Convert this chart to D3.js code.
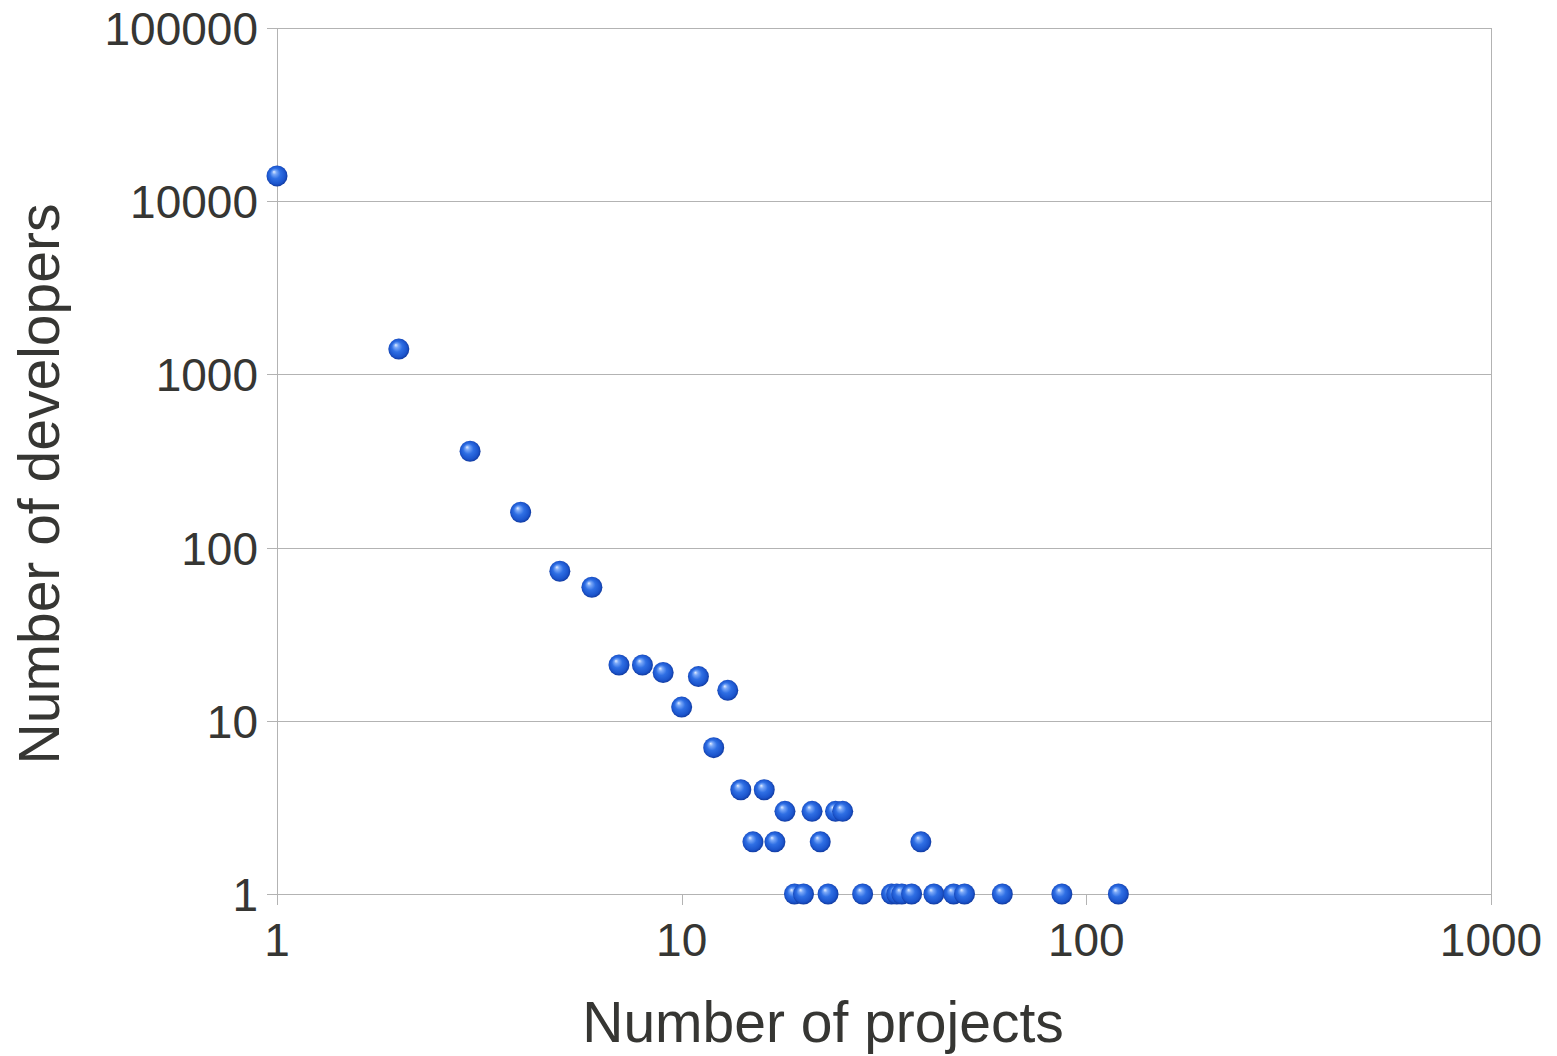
<!DOCTYPE html>
<html>
<head>
<meta charset="utf-8">
<script src="https://cdn.jsdelivr.net/npm/d3@7"></script>
<style>
  body { margin: 0; background: #fff; }
  text { font-family: "Liberation Sans", Arial, sans-serif; fill: #363633; }
</style>
</head>
<body>
<svg class="graph"></svg>
<script>
// number of projects a developer works on
let projects = [1, 2, 3, 4, 5, 6, 7, 8, 9, 10, 11, 12, 13, 14, 15, 16, 17, 18, 19, 20,
    21, 22, 23, 24, 25, 28, 33, 34, 35, 37, 39, 42, 47, 50, 62, 87, 120]
// how many developers have that many projects
let developers = [14000, 1400, 360, 160, 73, 59, 21, 21, 19, 12, 18, 7, 15, 4, 2, 4, 2, 3, 1, 1,
    3, 2, 1, 3, 3, 1, 1, 1, 1, 1, 2, 1, 1, 1, 1, 1, 1]

let xTicks = [1, 10, 100, 1000]
let yTicks = [1, 10, 100, 1000, 10000, 100000]

let width = 1557,
    height = 1056
let plotLeft = 277, plotRight = 1491, plotTop = 28, plotBottom = 894

let data = projects.map((p, i) => ({ x: p, y: developers[i] }))

var x = d3.scaleLog()
    .domain([1, 1000])
    .range([plotLeft, plotRight])

var y = d3.scaleLog()
    .domain([1, 100000])
    .range([plotBottom, plotTop])

var svg = d3.select(".graph")
    .attr("width", width)
    .attr("height", height)

// glossy ball look
let grad = svg.append("defs").append("radialGradient")
    .attr("id", "ball")
    .attr("cx", "50%").attr("cy", "50%").attr("r", "55%")
    .attr("fx", "35%").attr("fy", "30%")
grad.append("stop").attr("offset", "0%").attr("stop-color", "#e4eeff")
grad.append("stop").attr("offset", "18%").attr("stop-color", "#7aa8f8")
grad.append("stop").attr("offset", "45%").attr("stop-color", "#2f6fe4")
grad.append("stop").attr("offset", "78%").attr("stop-color", "#1b54cc")
grad.append("stop").attr("offset", "100%").attr("stop-color", "#0d2f8c")

// horizontal grid lines
svg.append("g")
    .selectAll("line")
    .data(yTicks)
    .enter().append("line")
    .attr("x1", plotLeft - 10)
    .attr("x2", plotRight)
    .attr("y1", d => Math.round(y(d)) + 0.5)
    .attr("y2", d => Math.round(y(d)) + 0.5)
    .attr("stroke", "#b3b3b3")

// left axis and right border
svg.append("line")
    .attr("x1", plotLeft + 0.5).attr("x2", plotLeft + 0.5)
    .attr("y1", plotTop).attr("y2", plotBottom + 1)
    .attr("stroke", "#b3b3b3")
svg.append("line")
    .attr("x1", plotRight + 0.5).attr("x2", plotRight + 0.5)
    .attr("y1", plotTop).attr("y2", plotBottom + 1)
    .attr("stroke", "#b3b3b3")

// x ticks
svg.append("g")
    .selectAll("line")
    .data(xTicks)
    .enter().append("line")
    .attr("x1", d => Math.round(x(d)) + 0.5)
    .attr("x2", d => Math.round(x(d)) + 0.5)
    .attr("y1", plotBottom)
    .attr("y2", plotBottom + 11)
    .attr("stroke", "#b3b3b3")

svg.append("g")
    .selectAll("text")
    .data(xTicks)
    .enter().append("text")
    .attr("x", d => x(d))
    .attr("y", 956)
    .attr("text-anchor", "middle")
    .style("font-size", "46px")
    .text(d => d)

svg.append("g")
    .selectAll("text")
    .data(yTicks)
    .enter().append("text")
    .attr("x", 258)
    .attr("y", d => y(d) + 17)
    .attr("text-anchor", "end")
    .style("font-size", "46px")
    .text(d => d)

// points
svg.append("g")
    .selectAll("circle")
    .data(data)
    .enter().append("circle")
    .attr("cx", d => x(d.x))
    .attr("cy", d => y(d.y))
    .attr("r", 10.5)
    .attr("fill", "url(#ball)")

// axis titles
svg.append("text")
    .attr("x", 823)
    .attr("y", 1042)
    .attr("text-anchor", "middle")
    .style("font-size", "57px")
    .text("Number of projects")

svg.append("text")
    .attr("transform", "translate(59," + 484 + ") rotate(-90)")
    .attr("text-anchor", "middle")
    .style("font-size", "57px")
    .text("Number of developers")
</script>
</body>
</html>
